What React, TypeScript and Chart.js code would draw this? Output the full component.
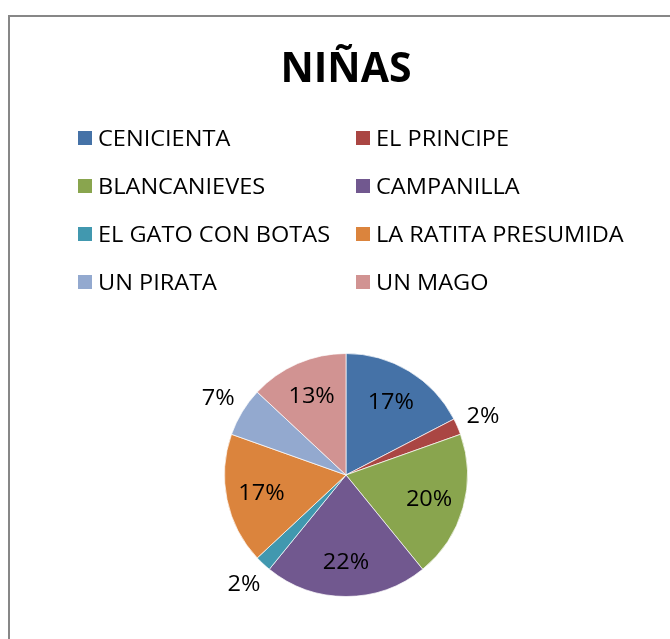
import React, { useEffect, useRef } from "react";
import { Chart, registerables } from "chart.js";

Chart.register(...registerables);

const title = "NIÑAS";
const categories = [
  "CENICIENTA",
  "EL PRINCIPE",
  "BLANCANIEVES",
  "CAMPANILLA",
  "EL GATO CON BOTAS",
  "LA RATITA PRESUMIDA",
  "UN PIRATA",
  "UN MAGO",
];
const counts = [8, 1, 9, 10, 1, 8, 3, 6];
const colors = [
  "#4572A7",
  "#AA4643",
  "#89A54E",
  "#71588F",
  "#4198AF",
  "#DB843D",
  "#93A9CF",
  "#D19392",
];

const FONT = "'Open Sans', 'Noto Sans', sans-serif";
const TEXT_STRETCH = 1.07;

function drawText(ctx: CanvasRenderingContext2D, text: string, x: number, y: number, sx: number) {
  ctx.save();
  ctx.translate(x, y);
  ctx.scale(sx, 1);
  ctx.fillText(text, 0, 0);
  ctx.restore();
}

const framePlugin = {
  id: "frame",
  beforeDraw(chart: any) {
    const ctx = chart.ctx;
    ctx.save();
    ctx.fillStyle = "#ffffff";
    ctx.fillRect(0, 0, chart.width, chart.height);
    ctx.strokeStyle = "#878787";
    ctx.lineWidth = 2;
    ctx.beginPath();
    ctx.moveTo(9, chart.height + 5);
    ctx.lineTo(9, 16);
    ctx.lineTo(chart.width + 5, 16);
    ctx.stroke();
    ctx.restore();
  },
};

const legendGridPlugin = {
  id: "legendGrid",
  afterDraw(chart: any) {
    const ctx = chart.ctx;
    const labels: string[] = chart.data.labels;
    const bg: string[] = chart.data.datasets[0].backgroundColor;
    ctx.save();
    // title
    ctx.fillStyle = "#000000";
    ctx.font = `bold 41px ${FONT}`;
    ctx.textAlign = "center";
    ctx.textBaseline = "alphabetic";
    ctx.fillText(title, 346, 82);
    // legend in two columns
    ctx.font = `22px ${FONT}`;
    ctx.textAlign = "left";
    const colX = [78, 356];
    const rowY = [138, 186, 234, 282];
    labels.forEach((lab, i) => {
      const cx = colX[i % 2];
      const cy = rowY[Math.floor(i / 2)];
      ctx.fillStyle = bg[i];
      ctx.fillRect(cx, cy - 7, 14, 14);
      ctx.fillStyle = "#000000";
      drawText(ctx, lab, cx + 20, cy + 8, TEXT_STRETCH);
    });
    ctx.restore();
  },
};

const pctLabelPlugin = {
  id: "pctLabels",
  afterDatasetsDraw(chart: any) {
    const ctx = chart.ctx;
    const meta = chart.getDatasetMeta(0);
    const data: number[] = chart.data.datasets[0].data;
    const total = data.reduce((a, b) => a + b, 0);
    ctx.save();
    ctx.font = `22px ${FONT}`;
    ctx.fillStyle = "#000000";
    ctx.textAlign = "center";
    ctx.textBaseline = "middle";
    meta.data.forEach((arc: any, i: number) => {
      const p = arc.getProps(["x", "y", "startAngle", "endAngle", "outerRadius"], true);
      const mid = (p.startAngle + p.endAngle) / 2;
      const frac = data[i] / total;
      const r = frac < 0.1 ? p.outerRadius * 1.23 : p.outerRadius * 0.71;
      const tx = p.x + Math.cos(mid) * r;
      const ty = p.y + Math.sin(mid) * r;
      drawText(ctx, Math.round(frac * 100) + "%", tx, ty + 1, TEXT_STRETCH);
    });
    ctx.restore();
  },
};

export default function App() {
  const canvasRef = useRef<HTMLCanvasElement>(null);

  useEffect(() => {
    if (!canvasRef.current) return;
    const chart = new Chart(canvasRef.current, {
      type: "pie",
      data: {
        labels: categories,
        datasets: [
          {
            data: counts,
            backgroundColor: colors,
            borderColor: "rgba(255,255,255,0.7)",
            borderWidth: 1,
          },
        ],
      },
      options: {
        animation: false,
        responsive: false,
        maintainAspectRatio: false,
        layout: { padding: { top: 353, bottom: 42, left: 22, right: 0 } },
        plugins: {
          legend: { display: false },
          title: { display: false },
          tooltip: { enabled: false },
        },
      },
      plugins: [framePlugin, legendGridPlugin, pctLabelPlugin],
    });
    return () => chart.destroy();
  }, []);

  return (
    <div style={{ position: "fixed", left: 0, top: 0, width: 670, height: 639, background: "#fff" }}>
      <canvas ref={canvasRef} width={670} height={639} style={{ width: 670, height: 639 }} />
    </div>
  );
}
